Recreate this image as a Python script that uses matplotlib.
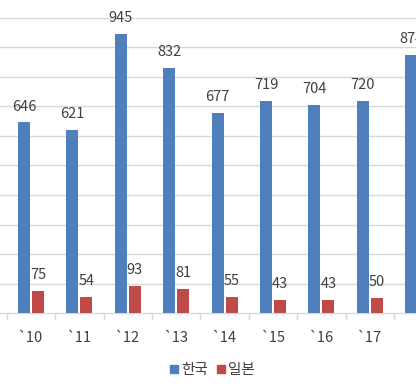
import matplotlib
matplotlib.use("Agg")
import matplotlib.pyplot as plt
import numpy as np

plt.rcParams['font.family'] = ['Noto Sans CJK KR', 'DejaVu Sans']

years = ["`09", "`10", "`11", "`12", "`13", "`14", "`15", "`16", "`17", "`18"]
korea = [None, 646, 621, 945, 832, 677, 719, 704, 720, 874]
japan = [None, 75, 54, 93, 81, 55, 43, 43, 50, None]
series_names = ["한국", "일본"]

blue = "#4F7FBD"
red = "#BE4B48"
txt = "#404040"

fig = plt.figure(figsize=(4.16, 3.86), dpi=100)
ax = fig.add_axes([0, (386 - 313) / 386, 1, 313 / 386])

px_per_cat = 48.4
c10 = 31.0
x0 = (0 - c10) / px_per_cat + 1
x1 = (416 - c10) / px_per_cat + 1

w = 12 / px_per_cat
off = 7 / px_per_cat
idx = np.arange(len(years))
for i in idx:
    if korea[i] is not None:
        ax.bar(i - off, korea[i], width=w, color=blue, zorder=3)
        ax.text(i - off, korea[i] + 30, str(korea[i]), ha='center', va='bottom',
                fontsize=10.5, color=txt, zorder=4)
    if japan[i] is not None:
        ax.bar(i + off, japan[i], width=w, color=red, zorder=3)
        ax.text(i + off, japan[i] + 30, str(japan[i]), ha='center', va='bottom',
                fontsize=10.5, color=txt, zorder=4)

ax.set_yticks(np.arange(100, 1100, 100))
ax.yaxis.grid(True, color="#d9d9d9", linewidth=1)
ax.set_axisbelow(True)
ax.tick_params(axis='y', length=0, labelleft=False)
for s in ['left', 'right', 'top']:
    ax.spines[s].set_visible(False)
ax.spines['bottom'].set_color("#d9d9d9")
ax.spines['bottom'].set_linewidth(1)

ax.set_xticks(idx)
ax.set_xticklabels(years, fontsize=10.5, color=txt)
ax.tick_params(axis='x', length=0, pad=13)
ax.set_xticks(idx + 0.5, minor=True)
ax.tick_params(axis='x', which='minor', length=5, color="#d9d9d9", width=1)

ax.set_xlim(x0, x1)
ax.set_ylim(0, 313 / 0.295)

handles = [plt.Line2D([], [], marker='s', linestyle='', color=blue, markersize=5.5),
           plt.Line2D([], [], marker='s', linestyle='', color=red, markersize=5.5)]
fig.legend(handles, series_names, loc='center', bbox_to_anchor=(212 / 416, 1 - 370 / 386),
           ncol=2, frameon=False, fontsize=10.5, handletextpad=0.1, columnspacing=0.6,
           labelcolor=txt, handlelength=0.7)

fig.savefig("out.png", dpi=100)
